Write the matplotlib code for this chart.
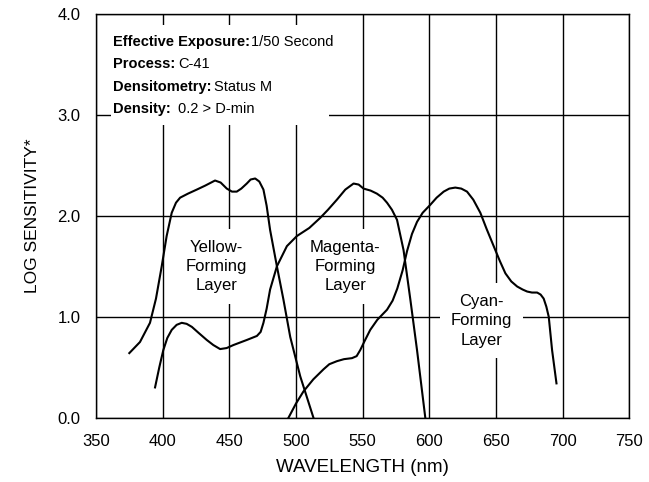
import matplotlib
matplotlib.use("Agg")
import matplotlib.pyplot as plt
from matplotlib.patches import Rectangle

plt.rcParams['font.family'] = ['Liberation Sans', 'DejaVu Sans']

# ==========================================
# DATA
# ==========================================
yellow_nm = [375.0, 383.0, 390.5, 395.0, 399.3, 403.0, 406.8, 410.0, 413.1,
             419.0, 425.6, 432.0, 439.3, 443.5, 448.1, 452.0, 455.6, 459.0,
             463.1, 466.0, 469.4, 472.5, 475.6, 478.0, 480.6, 485.7, 490.6,
             495.7, 503.2, 513.1]
yellow_log = [0.64, 0.75, 0.94, 1.18, 1.50, 1.80, 2.03, 2.13, 2.18,
              2.22, 2.26, 2.30, 2.35, 2.33, 2.27, 2.24, 2.24, 2.27,
              2.32, 2.36, 2.37, 2.34, 2.26, 2.10, 1.86, 1.50, 1.17,
              0.80, 0.41, 0.0]

magenta_nm = [394.3, 397.5, 400.5, 403.5, 406.8, 410.5, 414.3, 418.0, 421.9,
              427.0, 433.1, 438.0, 443.1, 448.0, 453.1, 463.1, 470.7, 473.5,
              475.6, 478.0, 480.6, 485.7, 493.2, 500.7, 510.0, 518.2, 524.0,
              530.7, 537.0, 543.2, 547.0, 550.7, 556.0, 560.7, 565.0, 568.3,
              572.0, 575.8, 580.7, 585.8, 590.8, 597.0]
magenta_log = [0.30, 0.50, 0.67, 0.79, 0.87, 0.92, 0.94, 0.93, 0.90,
               0.84, 0.77, 0.72, 0.68, 0.69, 0.72, 0.77, 0.81, 0.85,
               0.94, 1.08, 1.27, 1.50, 1.70, 1.80, 1.88, 1.98, 2.06,
               2.16, 2.26, 2.32, 2.31, 2.27, 2.25, 2.22, 2.18, 2.13,
               2.06, 1.96, 1.66, 1.17, 0.67, 0.0]

cyan_nm = [494.4, 500.0, 505.6, 513.0, 520.7, 525.0, 530.7, 536.0, 542.0,
           545.5, 548.2, 551.5, 555.7, 561.0, 568.3, 572.5, 576.0, 580.0,
           583.3, 587.0, 590.8, 595.0, 600.8, 605.5, 610.8, 615.0, 619.5,
           624.0, 628.3, 633.0, 638.3, 643.0, 648.3, 653.0, 657.1, 661.5,
           665.9, 670.0, 673.4, 677.0, 680.9, 683.5, 685.8, 687.8, 689.6,
           692.1, 695.4]
cyan_log = [0.0, 0.14, 0.26, 0.38, 0.48, 0.53, 0.56, 0.58, 0.59,
            0.61, 0.67, 0.76, 0.87, 0.97, 1.07, 1.16, 1.28, 1.46,
            1.65, 1.82, 1.94, 2.03, 2.11, 2.18, 2.24, 2.27, 2.28,
            2.27, 2.24, 2.16, 2.03, 1.87, 1.70, 1.55, 1.43, 1.35,
            1.30, 1.27, 1.25, 1.24, 1.24, 1.22, 1.18, 1.10, 1.00,
            0.67, 0.34]

x_ticks = [350, 400, 450, 500, 550, 600, 650, 700, 750]
y_ticks = [0.0, 1.0, 2.0, 3.0, 4.0]

layer_labels = ["Yellow-\nForming\nLayer", "Magenta-\nForming\nLayer", "Cyan-\nForming\nLayer"]
layer_pos = [(440.5, 1.50), (537.0, 1.50), (639.0, 0.96)]

info_bold = ["Effective Exposure:", "Process:", "Densitometry:", "Density:"]
info_plain = ["1/50 Second", "C-41", "Status M", "0.2 > D-min"]
info_gap = [1, 2, 2, 5]
info_y = [3.72, 3.50, 3.28, 3.06]

# ==========================================
# FIGURE
# ==========================================
fig = plt.figure(figsize=(6.49, 4.82), dpi=100)
ax = fig.add_axes([0.1479, 0.1334, 0.8217, 0.8376])

ax.set_xlim(350, 750)
ax.set_ylim(0, 4)
ax.set_xticks(x_ticks)
ax.set_yticks(y_ticks)
ax.set_yticklabels([f"{v:.1f}" for v in y_ticks])
ax.tick_params(length=0, labelsize=12, pad=12)
ax.tick_params(axis='y', pad=11)
ax.grid(True, color='black', linewidth=1.0)
ax.set_axisbelow(True)
for s in ax.spines.values():
  s.set_linewidth(1.0)
  s.set_zorder(5)

for xs, ys in [(yellow_nm, yellow_log), (magenta_nm, magenta_log), (cyan_nm, cyan_log)]:
  ax.plot(xs, ys, color='black', linewidth=1.5, solid_joinstyle='round', zorder=3)

for lab, (lx, ly) in zip(layer_labels, layer_pos):
  ax.text(lx, ly, lab, ha='center', va='center', fontsize=12, linespacing=1.35,
          bbox=dict(boxstyle='square,pad=0.65', facecolor='white', edgecolor='none'),
          zorder=2)

# white box behind the info block
ax.add_patch(Rectangle((361.5, 2.90), 163.0, 0.99, facecolor='white',
                       edgecolor='none', zorder=1.5))

for b, p, g, iy in zip(info_bold, info_plain, info_gap, info_y):
  t = ax.text(362.8, iy, b, fontsize=10.5, fontweight='bold', ha='left', va='center', zorder=4)
  ax.annotate(p, xy=(1, 0.5), xycoords=t, xytext=(g, 0), textcoords='offset points',
              fontsize=10.5, ha='left', va='center', zorder=4)

ax.set_xlabel("WAVELENGTH (nm)", fontsize=13.5, labelpad=7)
ax.set_ylabel("LOG SENSITIVITY*", fontsize=12.5, labelpad=13)

fig.savefig("out.png", dpi=100)
